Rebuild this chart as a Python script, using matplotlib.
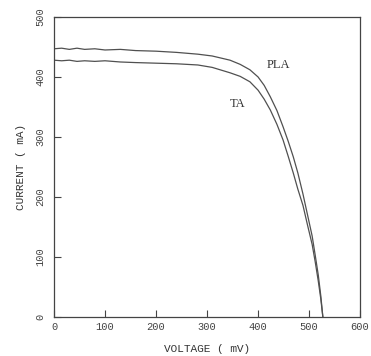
import matplotlib
matplotlib.use("Agg")
import matplotlib.pyplot as plt
import numpy as np

# I-V curves (voltage in mV, current in mA)
pla_v = [0, 15, 30, 45, 60, 80, 100, 130, 160, 200, 240, 282, 310, 345, 365,
         384, 400, 412, 424, 437, 449, 459, 469, 478, 488, 497, 506, 512, 518,
         523, 527]
pla_i = [447, 448, 446, 448, 446, 447, 445, 446, 444, 443, 441, 438, 435, 428, 421,
         412, 400, 386, 367, 344, 317, 293, 267, 240, 205, 170, 135, 103, 70,
         35, 0]

ta_v = [0, 15, 30, 45, 60, 80, 100, 130, 160, 200, 240, 282, 310, 345, 365,
        384, 400, 412, 424, 437, 449, 459, 469, 478, 488, 497, 506, 512, 518,
        523, 527]
ta_i = [428, 427, 428, 426, 427, 426, 427, 425, 424, 423, 422, 420, 416, 407, 401,
        392, 378, 363, 345, 321, 295, 268, 240, 213, 186, 153, 121, 92, 60,
        30, 0]

x_ticks = [0, 100, 200, 300, 400, 500, 600]
y_ticks = [0, 100, 200, 300, 400, 500]

fig = plt.figure(figsize=(3.71, 3.56), dpi=100)
ax = fig.add_axes([0.1456, 0.1096, 0.825, 0.8427])

line_col = '#505050'
ax.plot(pla_v, pla_i, color=line_col, lw=0.9)
ax.plot(ta_v, ta_i, color=line_col, lw=0.9)

ax.text(416, 415, 'PLA', family='Liberation Serif', fontsize=9, color='#333333')
ax.text(345, 350, 'TA', family='Liberation Serif', fontsize=9, color='#333333')

ax.set_xlim(0, 600)
ax.set_ylim(0, 500)
ax.set_xticks(x_ticks)
ax.set_yticks(y_ticks)
ax.tick_params(direction='in', length=5, width=0.8, color='#444444',
               labelsize=7.5, labelcolor='#444444')
ax.tick_params(axis='y', labelrotation=90, pad=6)
for lab in ax.get_xticklabels() + ax.get_yticklabels():
    lab.set_family('Liberation Mono')
for lab in ax.get_yticklabels():
    lab.set_va('center')

for s in ax.spines.values():
    s.set_color('#444444')
    s.set_linewidth(0.9)

ax.set_xlabel('VOLTAGE ( mV)', family='Liberation Mono', fontsize=8,
              color='#333333', labelpad=9)
ax.set_ylabel('CURRENT ( mA)', family='Liberation Mono', fontsize=8,
              color='#333333', labelpad=7)

fig.savefig('out.png', dpi=100)
